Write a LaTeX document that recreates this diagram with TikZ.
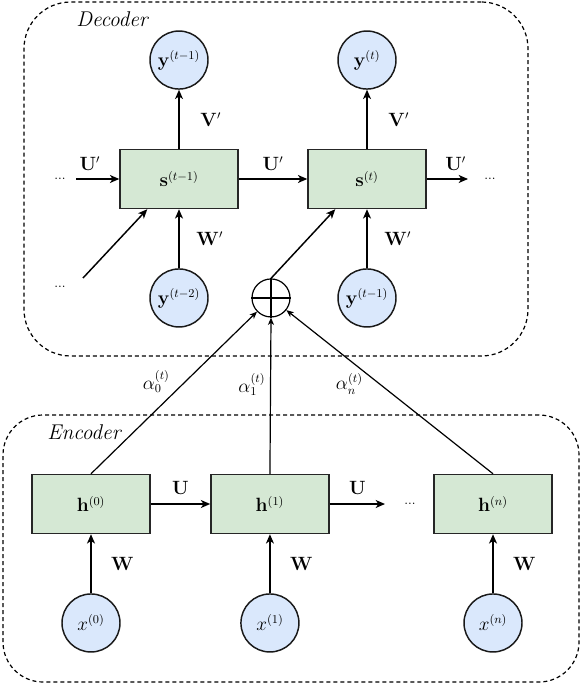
\documentclass[tikz,border=0pt]{standalone}
\usepackage{tikz}
\usetikzlibrary{positioning,arrows.meta}
\definecolor{BoxGreen}{HTML}{D5E8D4}
\definecolor{CircleBlue}{HTML}{DAE8FC}
\tikzstyle{HiddenState}=[rectangle, draw=black!85, fill=BoxGreen, line width=1.1pt, minimum width=88.5pt, minimum height=44.25pt, font=\fontsize{13.5}{16}\selectfont]
\tikzstyle{VectorNode}=[circle, draw=black!90, fill=CircleBlue, line width=1.1pt, minimum size=43.5pt, inner sep=0pt, font=\fontsize{13.5}{16}\selectfont]
\tikzstyle{SumNode}=[circle, draw=black, line width=0.9pt, minimum size=28.5pt, inner sep=0pt]
\tikzstyle{GroupFrame}=[rectangle, draw=black, line width=0.9pt, dash pattern=on 3pt off 2.25pt]
\tikzstyle{GroupTitle}=[font=\fontsize{16}{19}\selectfont\itshape]
\tikzstyle{Dots}=[inner sep=2pt, font=\fontsize{10}{12}\selectfont]
\tikzstyle{EdgeLabel}=[inner sep=2pt, font=\fontsize{13.5}{16}\selectfont]
\tikzstyle{WeightArrow}=[-{Stealth[length=7pt, width=6pt, inset=2pt]}, line width=1.1pt]
\tikzstyle{AttnArrow}=[-{Stealth[length=5.5pt, width=4.5pt, inset=1.5pt]}, line width=0.9pt]

\begin{document}
\begin{tikzpicture}[x=0.75pt, y=-0.75pt]
			\useasboundingbox (0,0) rectangle (581,684);

			%Marcos
			\node[GroupFrame, rounded corners=35pt, minimum width=378pt, minimum height=265.5pt]	(decoder)	at (276,179)	{};
			\node[GroupFrame, rounded corners=30pt, minimum width=432pt, minimum height=200.25pt]	(encoder)	at (291,548.5)	{};
			\node[GroupTitle]	(decoder_title)	at (112,19)		{Decoder};
			\node[GroupTitle]	(encoder_title)	at (84,432)		{Encoder};

			%Nodos decoder
			\node[HiddenState]	(s1)		at (179,179)					{$\mathbf{s}^{(t-1)}$};
			\node[HiddenState]	(s2)		[right=51.4pt of s1]			{$\mathbf{s}^{(t)}$};
			\node[VectorNode]	(y1)		[above=44.25pt of s1]			{$\mathbf{y}^{(t-1)}$};
			\node[VectorNode]	(y2)		[above=44.25pt of s2]			{$\mathbf{y}^{(t)}$};
			\node[VectorNode]	(yin1)		[below=44.25pt of s1]			{$\mathbf{y}^{(t-2)}$};
			\node[VectorNode]	(yin2)		[below=44.25pt of s2]			{$\mathbf{y}^{(t-1)}$};
			\node[SumNode]		(sum)		[right=32pt of yin1]			{};
			\node[Dots]			(dots_in)	at (60,179)						{...};
			\node[Dots]			(dots_out)	at (490,179)					{...};
			\node[Dots]			(dots_diag)	at (60,287)						{...};
			\coordinate			(s_in)		at (76,179);
			\coordinate			(s_out)		at (468,179);
			\coordinate			(diag_in)	at (83,278);

			%Nodos encoder
			\node[HiddenState]	(h0)		at (91,504)						{$\mathbf{h}^{(0)}$};
			\node[HiddenState]	(h1)		[right=44.6pt of h0]			{$\mathbf{h}^{(1)}$};
			\node[HiddenState]	(hn)		[right=77.7pt of h1]			{$\mathbf{h}^{(n)}$};
			\node[VectorNode]	(x0)		[below=44.25pt of h0]			{$x^{(0)}$};
			\node[VectorNode]	(x1)		[below=44.25pt of h1]			{$x^{(1)}$};
			\node[VectorNode]	(xn)		[below=44.25pt of hn]			{$x^{(n)}$};
			\node[Dots]			(dots_h)	at (410,504)					{...};
			\coordinate			(h_out)		at (385,504);

			%Lineas decoder
			\draw[WeightArrow] (s_in) -- (s1.west) node[EdgeLabel, pos=0.32, above=4pt] {$\mathbf{U}'$};
			\draw[WeightArrow] (s1.east) -- (s2.west) node[EdgeLabel, midway, above=4pt] {$\mathbf{U}'$};
			\draw[WeightArrow] (s2.east) -- (s_out) node[EdgeLabel, pos=0.7, above=4pt] {$\mathbf{U}'$};
			\draw[WeightArrow] (s1) -- (y1) node[EdgeLabel, midway, right=13.5pt] {$\mathbf{V}'$};
			\draw[WeightArrow] (s2) -- (y2) node[EdgeLabel, midway, right=13.5pt] {$\mathbf{V}'$};
			\draw[WeightArrow] (yin1) -- (s1) node[EdgeLabel, midway, right=10.5pt] {$\mathbf{W}'$};
			\draw[WeightArrow] (yin2) -- (s2) node[EdgeLabel, midway, right=10.5pt] {$\mathbf{W}'$};
			\draw[WeightArrow] (diag_in) -- ([xshift=21pt]s1.south west);
			\draw[WeightArrow] (sum.north) -- ([xshift=21pt]s2.south west);
			\draw[line width=0.9pt] (sum.north) -- (sum.south) (sum.west) -- (sum.east);

			%Lineas encoder
			\draw[WeightArrow] (h0.east) -- (h1.west) node[EdgeLabel, midway, above=4.5pt] {$\mathbf{U}$};
			\draw[WeightArrow] (h1.east) -- (h_out) node[EdgeLabel, midway, above=4.5pt] {$\mathbf{U}$};
			\draw[WeightArrow] (x0) -- (h0) node[EdgeLabel, midway, right=12.5pt] {$\mathbf{W}$};
			\draw[WeightArrow] (x1) -- (h1) node[EdgeLabel, midway, right=12.5pt] {$\mathbf{W}$};
			\draw[WeightArrow] (xn) -- (hn) node[EdgeLabel, midway, right=12.5pt] {$\mathbf{W}$};

			%Atencion
			\draw[AttnArrow] (h0.north) -- (sum) node[EdgeLabel, pos=0.57, left=9.5pt] {$\alpha_0^{(t)}$};
			\draw[AttnArrow] (h1.north) -- (sum.south) node[EdgeLabel, pos=0.57, left=1.5pt] {$\alpha_1^{(t)}$};
			\draw[AttnArrow] (hn.north) -- (sum) node[EdgeLabel, pos=0.55, left=10pt] {$\alpha_n^{(t)}$};

		\end{tikzpicture}
\end{document}
